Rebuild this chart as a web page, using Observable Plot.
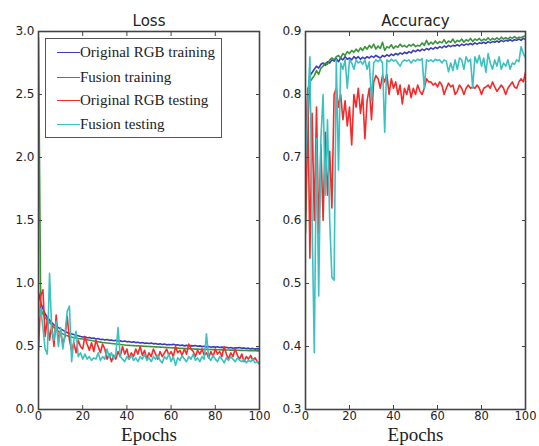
<!DOCTYPE html>
<html><head><meta charset="utf-8">
<script src="https://cdn.jsdelivr.net/npm/d3@7"></script>
<script src="https://cdn.jsdelivr.net/npm/@observablehq/plot@0.6"></script>
<style>
html,body{margin:0;padding:0;background:#fff;}
#wrap{position:relative;width:539px;height:446px;overflow:hidden;background:#fff;}
#loss,#acc{position:absolute;top:0;}
#loss{left:0;} #acc{left:270px;}
.legend{position:absolute;left:45px;top:38px;width:177px;height:100px;border:1.2px solid #555;background:#fff;box-sizing:border-box;font-family:"Liberation Serif","Times New Roman",serif;font-size:15px;color:#222;}
.item{position:absolute;left:11px;display:flex;align-items:center;height:18px;margin-top:-9px;white-space:nowrap;}
.swatch{width:23px;height:0;border-top:1.8px solid;margin-right:0px;}
</style>
</head><body>
<div id="wrap"><div id="loss"></div><div id="acc"></div></div>
<script>
const seriesNames = ["Original RGB training", "Fusion training", "Original RGB testing", "Fusion testing"];
const seriesColors = ["#3c3cb4", "#3a953a", "#f52a2a", "#3cc0c0"];
const xTicks = [0, 20, 40, 60, 80, 100];
const lossTicks = [0, 0.5, 1.0, 1.5, 2.0, 2.5, 3.0];
const accTicks = [0.3, 0.4, 0.5, 0.6, 0.7, 0.8, 0.9];

// Loss per epoch (0..100)
const lossRgbTrain = [0.93,0.85,0.80,0.76,0.73,0.71,0.69,0.67,0.66,0.65,0.64,0.63,0.62,0.61,0.605,0.60,0.595,0.59,0.585,0.58,0.575,
0.578,0.57,0.572,0.565,0.568,0.56,0.563,0.556,0.558,0.552,0.555,0.549,0.552,0.546,0.549,0.543,0.546,0.54,0.543,0.537,
0.54,0.534,0.537,0.531,0.534,0.528,0.531,0.525,0.528,0.524,0.527,0.521,0.524,0.518,0.521,0.516,0.519,0.513,0.516,0.514,
0.517,0.511,0.514,0.508,0.511,0.505,0.509,0.503,0.507,0.505,0.508,0.502,0.505,0.499,0.502,0.497,0.500,0.494,0.498,0.495,
0.498,0.492,0.495,0.490,0.494,0.488,0.492,0.486,0.490,0.489,0.492,0.486,0.489,0.483,0.487,0.481,0.485,0.479,0.483,0.48];
const lossFusionTrain = [2.95,0.80,0.76,0.73,0.71,0.69,0.67,0.65,0.63,0.62,0.61,0.60,0.59,0.585,0.58,0.575,0.57,0.567,0.564,0.562,0.56,
0.556,0.553,0.55,0.547,0.544,0.541,0.538,0.535,0.532,0.53,0.528,0.526,0.524,0.522,0.52,0.518,0.516,0.514,0.512,0.51,
0.509,0.508,0.507,0.506,0.505,0.504,0.503,0.502,0.501,0.50,0.499,0.498,0.497,0.496,0.495,0.494,0.493,0.492,0.491,0.49,
0.489,0.488,0.487,0.486,0.485,0.484,0.483,0.482,0.481,0.48,0.479,0.479,0.478,0.478,0.477,0.477,0.476,0.476,0.475,0.475,
0.474,0.474,0.473,0.473,0.472,0.472,0.471,0.471,0.470,0.47,0.469,0.469,0.468,0.468,0.467,0.467,0.466,0.466,0.465,0.465];
const lossRgbTest = [0.47,0.90,0.95,0.58,0.72,0.55,0.67,0.50,0.75,0.55,0.62,0.52,0.58,0.74,0.55,0.47,0.53,0.45,0.55,0.50,0.48,
0.58,0.52,0.47,0.53,0.46,0.55,0.50,0.45,0.52,0.48,0.40,0.44,0.38,0.43,0.40,0.46,0.42,0.50,0.44,0.48,
0.40,0.45,0.42,0.48,0.44,0.50,0.43,0.47,0.40,0.45,0.42,0.48,0.44,0.40,0.46,0.42,0.45,0.48,0.43,0.46,
0.42,0.50,0.45,0.47,0.43,0.48,0.44,0.52,0.48,0.46,0.42,0.47,0.44,0.48,0.43,0.45,0.41,0.46,0.42,0.48,
0.44,0.46,0.42,0.50,0.44,0.40,0.45,0.42,0.48,0.43,0.40,0.44,0.38,0.42,0.40,0.43,0.39,0.41,0.38,0.36];
const lossFusionTest = [0.72,0.80,0.65,0.48,0.44,1.08,0.62,0.55,0.70,0.50,0.65,0.48,0.60,0.78,0.82,0.38,0.55,0.62,0.42,0.45,0.40,
0.44,0.40,0.42,0.39,0.41,0.40,0.45,0.39,0.42,0.40,0.48,0.41,0.45,0.40,0.44,0.65,0.42,0.40,0.38,0.42,
0.40,0.43,0.39,0.41,0.38,0.42,0.40,0.44,0.39,0.41,0.38,0.42,0.40,0.43,0.39,0.37,0.42,0.40,0.44,0.38,
0.42,0.35,0.41,0.39,0.43,0.40,0.38,0.42,0.40,0.44,0.39,0.41,0.38,0.42,0.40,0.60,0.41,0.39,0.43,0.40,
0.38,0.42,0.40,0.37,0.41,0.39,0.42,0.40,0.38,0.41,0.39,0.38,0.40,0.37,0.39,0.38,0.40,0.37,0.38,0.37];

// Accuracy per epoch (0..100)
const accRgbTrain = [0.70,0.80,0.83,0.835,0.84,0.845,0.842,0.848,0.85,0.846,0.852,0.85,0.855,0.853,0.857,0.852,0.858,0.855,0.86,0.856,0.858,
0.855,0.86,0.857,0.86,0.856,0.859,0.857,0.86,0.858,0.861,0.859,0.862,0.86,0.858,0.862,0.86,0.863,0.861,0.864,0.862,
0.865,0.863,0.866,0.864,0.867,0.865,0.868,0.866,0.87,0.868,0.871,0.869,0.872,0.87,0.873,0.871,0.874,0.872,0.875,0.873,
0.876,0.874,0.877,0.875,0.878,0.876,0.878,0.877,0.879,0.877,0.88,0.878,0.88,0.879,0.881,0.879,0.882,0.88,0.882,0.881,
0.883,0.881,0.884,0.882,0.884,0.883,0.885,0.883,0.886,0.884,0.886,0.885,0.887,0.885,0.887,0.886,0.888,0.886,0.889,0.887];
const accFusionTrain = [0.58,0.75,0.82,0.825,0.83,0.838,0.832,0.842,0.845,0.85,0.848,0.855,0.858,0.855,0.86,0.862,0.858,0.865,0.862,0.868,0.865,
0.87,0.867,0.872,0.868,0.874,0.87,0.876,0.872,0.878,0.874,0.88,0.872,0.877,0.873,0.883,0.87,0.876,0.874,0.879,0.873,
0.877,0.875,0.88,0.876,0.878,0.875,0.879,0.877,0.88,0.876,0.878,0.877,0.882,0.878,0.886,0.879,0.883,0.88,0.885,0.881,
0.884,0.882,0.887,0.881,0.885,0.883,0.888,0.882,0.886,0.884,0.888,0.883,0.887,0.885,0.889,0.884,0.888,0.886,0.889,0.885,
0.888,0.886,0.89,0.886,0.889,0.887,0.89,0.887,0.891,0.888,0.89,0.888,0.891,0.889,0.892,0.889,0.891,0.89,0.892,0.893];
const accRgbTest = [0.60,0.81,0.54,0.77,0.60,0.78,0.58,0.72,0.60,0.74,0.64,0.71,0.62,0.80,0.81,0.78,0.80,0.76,0.79,0.75,0.78,
0.72,0.80,0.78,0.81,0.77,0.80,0.73,0.79,0.81,0.76,0.82,0.83,0.825,0.81,0.83,0.82,0.832,0.80,0.825,0.81,
0.82,0.80,0.815,0.785,0.81,0.80,0.815,0.795,0.81,0.80,0.815,0.805,0.80,0.81,0.825,0.82,0.82,0.815,0.818,0.812,
0.82,0.815,0.80,0.81,0.818,0.812,0.815,0.80,0.805,0.815,0.81,0.80,0.81,0.815,0.81,0.812,0.81,0.815,0.81,0.80,
0.81,0.812,0.815,0.81,0.82,0.812,0.805,0.81,0.815,0.81,0.80,0.81,0.815,0.82,0.812,0.81,0.82,0.825,0.82,0.835];
const accFusionTest = [0.69,0.78,0.86,0.60,0.39,0.73,0.48,0.73,0.80,0.64,0.76,0.60,0.51,0.505,0.855,0.68,0.85,0.84,0.855,0.81,0.855,
0.85,0.84,0.855,0.85,0.853,0.848,0.855,0.84,0.852,0.79,0.85,0.855,0.852,0.856,0.85,0.74,0.855,0.852,0.856,0.853,
0.855,0.85,0.845,0.852,0.855,0.853,0.855,0.85,0.855,0.853,0.856,0.854,0.857,0.81,0.855,0.853,0.855,0.852,0.856,0.854,
0.855,0.85,0.855,0.853,0.836,0.85,0.838,0.855,0.84,0.858,0.855,0.84,0.86,0.852,0.856,0.81,0.86,0.85,0.862,0.845,
0.858,0.835,0.865,0.85,0.84,0.855,0.845,0.86,0.84,0.85,0.845,0.855,0.84,0.85,0.848,0.855,0.852,0.876,0.865,0.858];

function table(arrays) {
  return arrays.flatMap((vals, s) => vals.map((v, i) => ({epoch: i, value: v, series: seriesNames[s]})));
}
const lossData = table([lossRgbTrain, lossFusionTrain, lossRgbTest, lossFusionTest]);
const accData = table([accRgbTrain, accFusionTrain, accRgbTest, accFusionTest]);

function panel(title, data, yDomain, yTicks, width, ml, mr) {
  const ax = {tickSize: -4, tickPadding: 8, stroke: "#444", strokeWidth: 1};
  return Plot.plot({
    width, height: 446,
    marginLeft: ml, marginRight: mr, marginTop: 31, marginBottom: 37,
    x: {domain: [0, 100]},
    y: {domain: yDomain},
    color: {domain: seriesNames, range: seriesColors},
    style: {fontFamily: "'DejaVu Sans', sans-serif", fontSize: "12px", color: "#222", background: "white", overflow: "visible"},
    marks: [
      Plot.line(data, {x: "epoch", y: "value", z: "series", stroke: "series", strokeWidth: 1.6, clip: true}),
      Plot.frame({stroke: "#444", strokeWidth: 1.6}),
      Plot.axisX({...ax, tickPadding: 6, ticks: xTicks, tickFormat: d => String(d), label: null, fontSize: 11.5}),
      Plot.axisX({...ax, anchor: "top", ticks: xTicks, tickFormat: () => "", label: null}),
      Plot.axisY({...ax, ticks: yTicks, tickFormat: ".1f", label: null}),
      Plot.axisY({...ax, anchor: "right", ticks: yTicks, tickFormat: () => "", label: null}),
      Plot.text([title], {frameAnchor: "top", dy: -6, lineAnchor: "bottom", fontSize: 15, fill: "#222"}),
      Plot.text(["Epochs"], {frameAnchor: "bottom", dy: 25, lineAnchor: "middle", fontSize: 19, fontFamily: "'Liberation Serif', 'Times New Roman', serif", fill: "#222"})
    ]
  });
}

document.getElementById("loss").append(panel("Loss", lossData, [0, 3], lossTicks, 270, 38, 11));
document.getElementById("acc").append(panel("Accuracy", accData, [0.3, 0.9], accTicks, 269, 35, 14));

const legend = document.createElement("div");
legend.className = "legend";
const rowY = [13.5, 38, 61.5, 85.5];
seriesNames.forEach((name, i) => {
  const item = document.createElement("div");
  item.className = "item";
  item.style.top = rowY[i] + "px";
  const sw = document.createElement("span");
  sw.className = "swatch";
  sw.style.borderTopColor = seriesColors[i];
  const label = document.createElement("span");
  label.textContent = name;
  item.append(sw, label);
  legend.append(item);
});
document.getElementById("wrap").append(legend);
</script>
</body></html>
